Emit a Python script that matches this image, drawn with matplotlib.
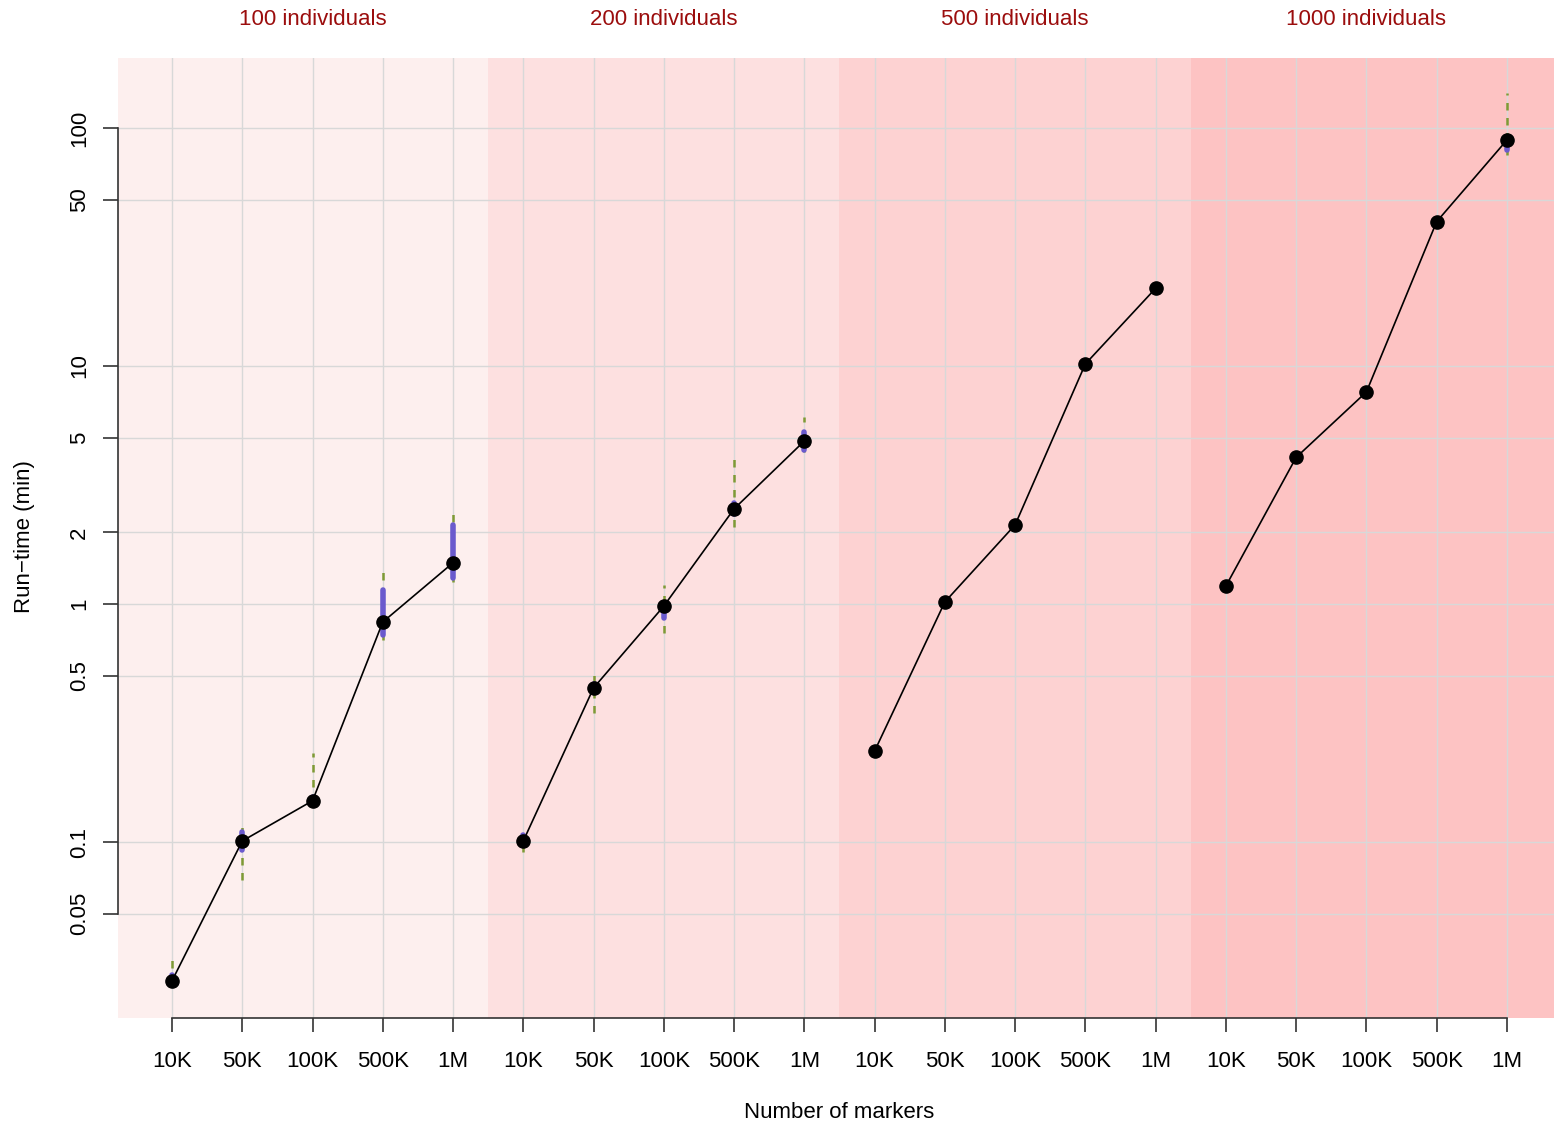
import numpy as np
import matplotlib
matplotlib.use("Agg")
import matplotlib.pyplot as plt

plt.rcParams["font.family"] = ["Liberation Sans", "DejaVu Sans"]

# data (run-time in minutes), one list per group of individuals
groups = ["100 individuals", "200 individuals", "500 individuals", "1000 individuals"]
markers = ["10K", "50K", "100K", "500K", "1M"]

median_100 = [0.0261, 0.101, 0.149, 0.84, 1.49]
median_200 = [0.101, 0.444, 0.98, 2.51, 4.84]
median_500 = [0.241, 1.02, 2.15, 10.2, 21.2]
median_1000 = [1.19, 4.13, 7.78, 40.4, 89.0]

# interquartile range (purple) and full range (dashed); None = no spread drawn
q_lo_100 = [0.0255, 0.0925, 0.147, 0.741, 1.29]
q_hi_100 = [0.0275, 0.110, 0.155, 1.145, 2.15]
w_lo_100 = [0.0255, 0.069, 0.147, 0.706, 1.24]
w_hi_100 = [0.0335, 0.124, 0.237, 1.36, 2.48]

q_lo_200 = [0.099, 0.43, 0.873, 2.40, 4.43]
q_hi_200 = [0.107, 0.46, 1.00, 2.65, 5.28]
w_lo_200 = [0.0908, 0.348, 0.755, 2.11, 4.35]
w_hi_200 = [0.107, 0.513, 1.20, 4.23, 6.10]

q_lo_500 = [None] * 5
q_hi_500 = [None] * 5
w_lo_500 = [None] * 5
w_hi_500 = [None] * 5

q_lo_1000 = [None, None, None, None, 80.8]
q_hi_1000 = [None, None, None, None, 89.0]
w_lo_1000 = [None, None, None, None, 77.0]
w_hi_1000 = [None, None, None, None, 140.0]

y_ticks = [0.05, 0.1, 0.5, 1, 2, 5, 10, 50, 100]
y_tick_labels = ["0.05", "0.1", "0.5", "1", "2", "5", "10", "50", "100"]

medians = [median_100, median_200, median_500, median_1000]
q_lo = [q_lo_100, q_lo_200, q_lo_500, q_lo_1000]
q_hi = [q_hi_100, q_hi_200, q_hi_500, q_hi_1000]
w_lo = [w_lo_100, w_lo_200, w_lo_500, w_lo_1000]
w_hi = [w_hi_100, w_hi_200, w_hi_500, w_hi_1000]

panel_colors = ["#FDEFEE", "#FDE0E0", "#FDD2D2", "#FDC3C3"]
fs = 16

fig = plt.figure(figsize=(15.54, 11.28), dpi=100)
ax = fig.add_axes([118 / 1554, 110 / 1128, 1436 / 1554, 960 / 1128])
ax.set_yscale("log")
ax.set_xlim(0.2314, 20.67)
ax.set_ylim(0.01822, 196.8)

n = len(markers)
for g in range(len(groups)):
    lo = g * n + 0.5
    ax.axvspan(lo if g > 0 else 0, lo + n if g < len(groups) - 1 else 25,
               color=panel_colors[g], lw=0, zorder=0)

ax.set_axisbelow(True)
ax.grid(True, color="#D8D8D8", lw=1.0, zorder=0.5)
ax.minorticks_off()

for g in range(len(groups)):
    xs = np.arange(1, n + 1) + g * n
    for i, x in enumerate(xs):
        if w_lo[g][i] is not None:
            ax.plot([x, x], [w_lo[g][i], w_hi[g][i]], color="#7E9A35",
                    lw=1.8, ls=(0, (3, 3)), zorder=2)
        if q_lo[g][i] is not None:
            ax.plot([x, x], [q_lo[g][i], q_hi[g][i]], color="#6A5ACD",
                    lw=4, solid_capstyle="round", zorder=3)
    ax.plot(xs, medians[g], color="black", lw=1.2, marker="o", ms=9.5,
            zorder=4)
    ax.text(g * n + 3, 1.0396, groups[g], transform=ax.get_xaxis_transform(),
            ha="center", va="center", color="#9B0D0D", fontsize=fs)

ax.set_xticks(np.arange(1, n * len(groups) + 1))
ax.set_xticklabels(markers * len(groups), fontsize=fs)
ax.set_yticks(y_ticks)
ax.set_yticklabels(y_tick_labels, fontsize=fs, rotation=90, va="center")
ax.tick_params(axis="x", length=10, width=1.2, pad=14, color="#333333")
ax.tick_params(axis="y", length=11, width=1.2, pad=9, color="#333333")

for side in ["top", "right"]:
    ax.spines[side].set_visible(False)
ax.spines["left"].set_bounds(0.05, 100)
ax.spines["bottom"].set_bounds(1, 20)
for side in ["left", "bottom"]:
    ax.spines[side].set_linewidth(1.2)
    ax.spines[side].set_color("#333333")

fig.text(25 / 1554, 1 - 537 / 1128, "Run\u2212time (min)", rotation=90,
         ha="center", va="center", fontsize=fs)
fig.text(839 / 1554, 1 - 1112 / 1128, "Number of markers",
         ha="center", va="center", fontsize=fs)

fig.savefig("out.png", dpi=100)
